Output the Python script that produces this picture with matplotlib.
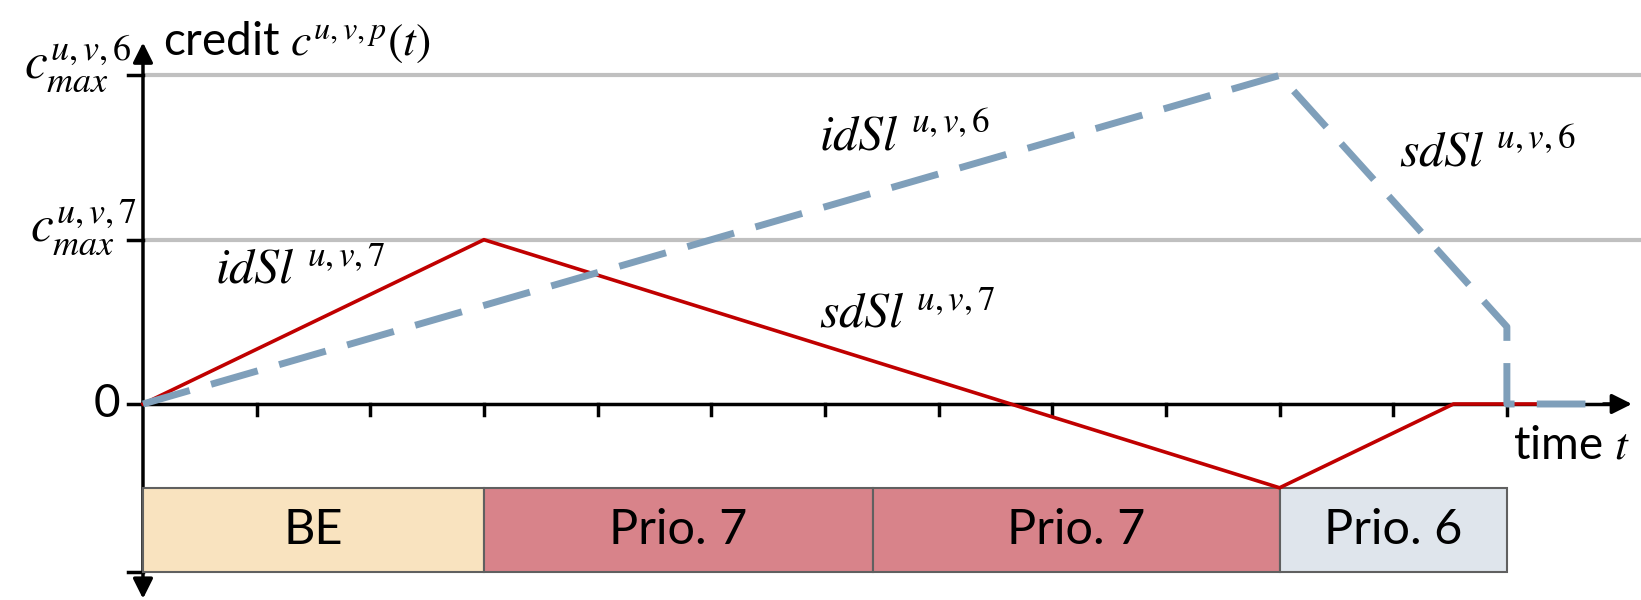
import matplotlib
matplotlib.use("Agg")
import matplotlib.pyplot as plt

plt.rcParams['mathtext.fontset'] = 'stix'
plt.rcParams['font.family'] = ['Lato', 'DejaVu Sans']

# data
red_x = [0, 3, 10, 11.53, 12.36]
red_y = [0, 1, -0.51, 0, 0]
blue_x = [0, 10, 12, 12, 12.85]
blue_y = [0, 2, 0.47, 0, 0]
box_labels = ['BE', 'Prio. 7', 'Prio. 7', 'Prio. 6']
box_starts = [0, 3, 6.42, 10]
box_ends = [3, 6.42, 10, 12]
box_colors = ['#f9e3bf', '#d8838a', '#d8838a', '#dfe5ec']
x_ticks = list(range(1, 13))
y_levels = [1, 2]

fig = plt.figure(figsize=(16.41, 6.0), dpi=100)
ax = fig.add_axes([0, 0, 1, 1])
ax.set_xlim(-1.258, 13.18)
ax.set_ylim(-1.193, 2.459)
ax.axis('off')

# gray reference lines
for yl in y_levels:
    ax.plot([0, 13.18], [yl, yl], color='#c0c0c0', lw=3, zorder=1, solid_capstyle='butt')

# axes with arrows
arrow_kw = dict(arrowstyle='-|>', color='black', lw=2.5, mutation_scale=30,
                shrinkA=0, shrinkB=0)
ax.plot([0, 12.9], [0, 0], color='black', lw=2.5, zorder=2)
ax.annotate('', xy=(13.1, 0), xytext=(12.85, 0), arrowprops=arrow_kw, zorder=7,
            annotation_clip=False)
ax.annotate('', xy=(0, 2.2), xytext=(0, 0), arrowprops=arrow_kw, zorder=2,
            annotation_clip=False)
ax.annotate('', xy=(0, -1.185), xytext=(0, 0), arrowprops=arrow_kw, zorder=2,
            annotation_clip=False)

# x ticks
for xt in x_ticks:
    ax.plot([xt, xt], [0, -0.07], color='black', lw=2.5, zorder=2)
# y ticks
for yt in [2, 1, 0, -1.02]:
    ax.plot([-0.13, 0], [yt, yt], color='black', lw=2.5, zorder=2)

# boxes
for s, e, c, lab in zip(box_starts, box_ends, box_colors, box_labels):
    ax.barh(-0.765, e - s, left=s, height=0.51, color=c, edgecolor='#606060',
            lw=1.5, zorder=3)
    ax.text((s + e) / 2, -0.765, lab, ha='center', va='center', fontsize=35, zorder=4)

# lines
ax.plot(red_x, red_y, color='#c00000', lw=2.6, zorder=5)
ax.plot(blue_x, blue_y, color='#7f9fba', lw=5, dashes=(7, 3.2), zorder=6,
        solid_capstyle='butt', dash_capstyle='butt')

# labels
ax.text(0.18, 2.2, r'credit $c^{u,v,p}(t)$', fontsize=33, ha='left', va='center')
ax.text(-0.1, 2.07, r'$c_{max}^{u,v,6}$', fontsize=37, ha='right', va='center')
ax.text(-0.06, 1.08, r'$c_{max}^{u,v,7}$', fontsize=37, ha='right', va='center')
ax.text(-0.2, 0, '0', fontsize=33, ha='right', va='center')
ax.text(0.63, 0.82, r'$idSl^{\ u,v,7}$', fontsize=36, ha='left', va='center')
ax.text(5.95, 1.63, r'$idSl^{\ u,v,6}$', fontsize=36, ha='left', va='center')
ax.text(5.95, 0.55, r'$sdSl^{\ u,v,7}$', fontsize=36, ha='left', va='center')
ax.text(11.05, 1.53, r'$sdSl^{\ u,v,6}$', fontsize=36, ha='left', va='center')
ax.text(12.05, -0.25, r'time $t$', fontsize=33, ha='left', va='center')

fig.savefig('out.png', dpi=100)
